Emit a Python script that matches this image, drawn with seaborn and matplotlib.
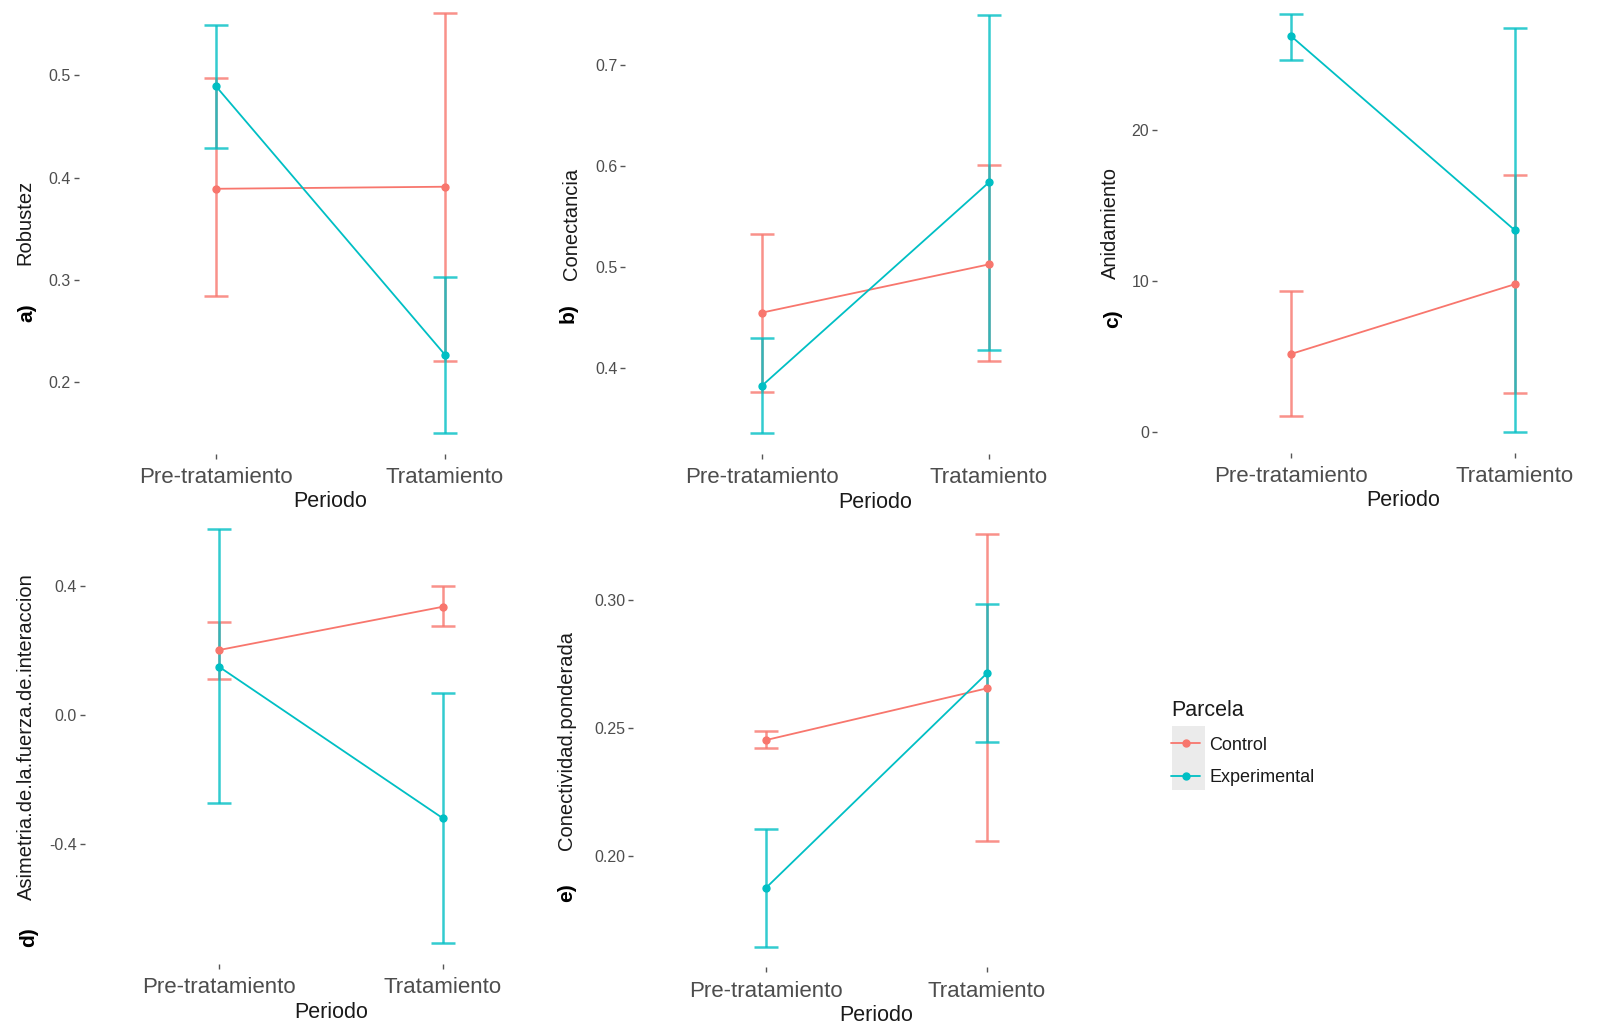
import numpy as np
import pandas as pd
import matplotlib
matplotlib.use('Agg')
import matplotlib.pyplot as plt
from matplotlib.lines import Line2D
from matplotlib.patches import Rectangle
import seaborn as sns

sns.set_theme(style='white')
plt.rcParams['font.family'] = ['Liberation Sans', 'DejaVu Sans']

periodos = ['Pre-tratamiento', 'Tratamiento']
parcelas = ['Control', 'Experimental']
colores = {'Control': '#F8766D', 'Experimental': '#00BFC4'}

# orden: Control-Pre, Control-Trat, Experimental-Pre, Experimental-Trat
robustez_media = [0.389, 0.391, 0.489, 0.227]
robustez_lo = [0.284, 0.221, 0.429, 0.151]
robustez_hi = [0.497, 0.561, 0.549, 0.303]

conectancia_media = [0.4545, 0.5024, 0.3819, 0.5837]
conectancia_lo = [0.3762, 0.4067, 0.335, 0.4175]
conectancia_hi = [0.5325, 0.6006, 0.429, 0.7496]

anidamiento_media = [5.15, 9.77, 26.23, 13.37]
anidamiento_lo = [1.04, 2.54, 24.64, 0.0]
anidamiento_hi = [9.33, 17.02, 27.69, 26.78]

asimetria_media = [0.2013, 0.3355, 0.1497, -0.320]
asimetria_lo = [0.1105, 0.2767, -0.2735, -0.707]
asimetria_hi = [0.288, 0.3995, 0.575, 0.067]

conect_pond_media = [0.2453, 0.2655, 0.1876, 0.2714]
conect_pond_lo = [0.2423, 0.2059, 0.1646, 0.2447]
conect_pond_hi = [0.249, 0.3257, 0.2104, 0.2983]

W, H = 1617, 1029
fig = plt.figure(figsize=(W / 100, H / 100), dpi=100)
fig.patch.set_facecolor('white')


def tabla(media, lo, hi):
    filas = []
    k = 0
    for p in parcelas:
        for t in periodos:
            filas.append({'Periodo': t, 'Parcela': p, 'media': media[k],
                          'lo': lo[k], 'hi': hi[k]})
            k += 1
    return pd.DataFrame(filas)


paneles = [
    # letra, etiqueta, datos, ticks, formato, caja px (izq, der, arriba, abajo), x ylabel, pos letra
    ('a)', 'Robustez', tabla(robustez_media, robustez_lo, robustez_hi),
     [0.2, 0.3, 0.4, 0.5], '{:.1f}', (78.6, 582.4, -8.5, 453.7), 34, (27, 313)),
    ('b)', 'Conectancia', tabla(conectancia_media, conectancia_lo, conectancia_hi),
     [0.4, 0.5, 0.6, 0.7], '{:.1f}', (625.3, 1125.4, -6, 454.2), 581, (568, 313)),
    ('c)', 'Anidamiento', tabla(anidamiento_media, anidamiento_lo, anidamiento_hi),
     [0, 10, 20], '{:.0f}', (1157, 1648.6, -6.8, 452.5), 1120, (1113, 319)),
    ('d)', 'Asimetria.de.la.fuerza.de.interaccion', tabla(asimetria_media, asimetria_lo, asimetria_hi),
     [-0.4, 0.0, 0.4], '{:.1f}', (84.6, 577.4, 508.7, 964), 36, (29, 937)),
    ('e)', 'Conectividad.ponderada', tabla(conect_pond_media, conect_pond_lo, conect_pond_hi),
     [0.20, 0.25, 0.30], '{:.2f}', (633.4, 1119.6, 513.5, 967.4), 576, (567, 893)),
]

for letra, etiqueta, df, ticks, fmt, caja, xlab, pos_letra in paneles:
    l, r, t, b = caja
    ax = fig.add_axes([l / W, 1 - b / H, (r - l) / W, (b - t) / H])
    ax.set_facecolor('none')

    # barras de error
    for p in parcelas:
        sub = df[df['Parcela'] == p]
        xs = [periodos.index(v) for v in sub['Periodo']]
        ax.errorbar(xs, sub['media'],
                    yerr=[sub['media'] - sub['lo'], sub['hi'] - sub['media']],
                    fmt='none', ecolor=colores[p], elinewidth=1.8, capsize=8.5,
                    capthick=1.8, alpha=0.8, zorder=2)

    sns.pointplot(data=df, x='Periodo', y='media', hue='Parcela', order=periodos,
                  hue_order=parcelas, palette=colores, errorbar=None,
                  markers='o', markersize=5, linewidth=1.3, ax=ax, legend=False)

    ymin, ymax = df['lo'].min(), df['hi'].max()
    rng = ymax - ymin
    ax.set_ylim(ymin - 0.05 * rng, ymax + 0.05 * rng)
    ax.set_xlim(-0.6, 1.6)
    ax.set_yticks(ticks)
    ax.set_yticklabels([fmt.format(v) for v in ticks])
    for s in ax.spines.values():
        s.set_visible(False)
    ax.tick_params(axis='both', which='major', length=3.5, width=1,
                   color='#555555', labelcolor='#4D4D4D', left=True, bottom=True)
    ax.tick_params(axis='y', labelsize=11.5, pad=2)
    ax.tick_params(axis='x', labelsize=16, pad=6)
    ax.set_xlabel('Periodo', fontsize=15.5, color='#1a1a1a', labelpad=2.5)
    ax.set_ylabel(etiqueta, fontsize=14.5, color='#1a1a1a')
    ax.yaxis.set_label_coords((xlab - l) / (r - l), 0.5)
    ax.grid(False)

    fig.text(pos_letra[0] / W, 1 - pos_letra[1] / H, letra, rotation=90,
             fontsize=15, fontweight='bold', color='black', ha='center', va='center')

# leyenda
fig.patches.append(Rectangle((1172 / W, 1 - 790 / H), 33 / W, 64 / H,
                             transform=fig.transFigure, facecolor='#EBEBEB',
                             edgecolor='none', zorder=0))
manejadores = [Line2D([], [], color=colores[p], marker='o', markersize=5,
                      linewidth=1.3) for p in parcelas]
leg = fig.legend(manejadores, parcelas, title='Parcela', loc='upper left',
                 bbox_to_anchor=(1155 / W, 1 - 684 / H), frameon=False,
                 fontsize=13, title_fontsize=15.5, handlelength=1.6,
                 handletextpad=0.5, labelspacing=0.85)
leg._legend_box.align = 'left'
leg.get_title().set_color('#1a1a1a')
for txt in leg.get_texts():
    txt.set_color('#1a1a1a')

fig.savefig('out.png', dpi=100, facecolor='white')
